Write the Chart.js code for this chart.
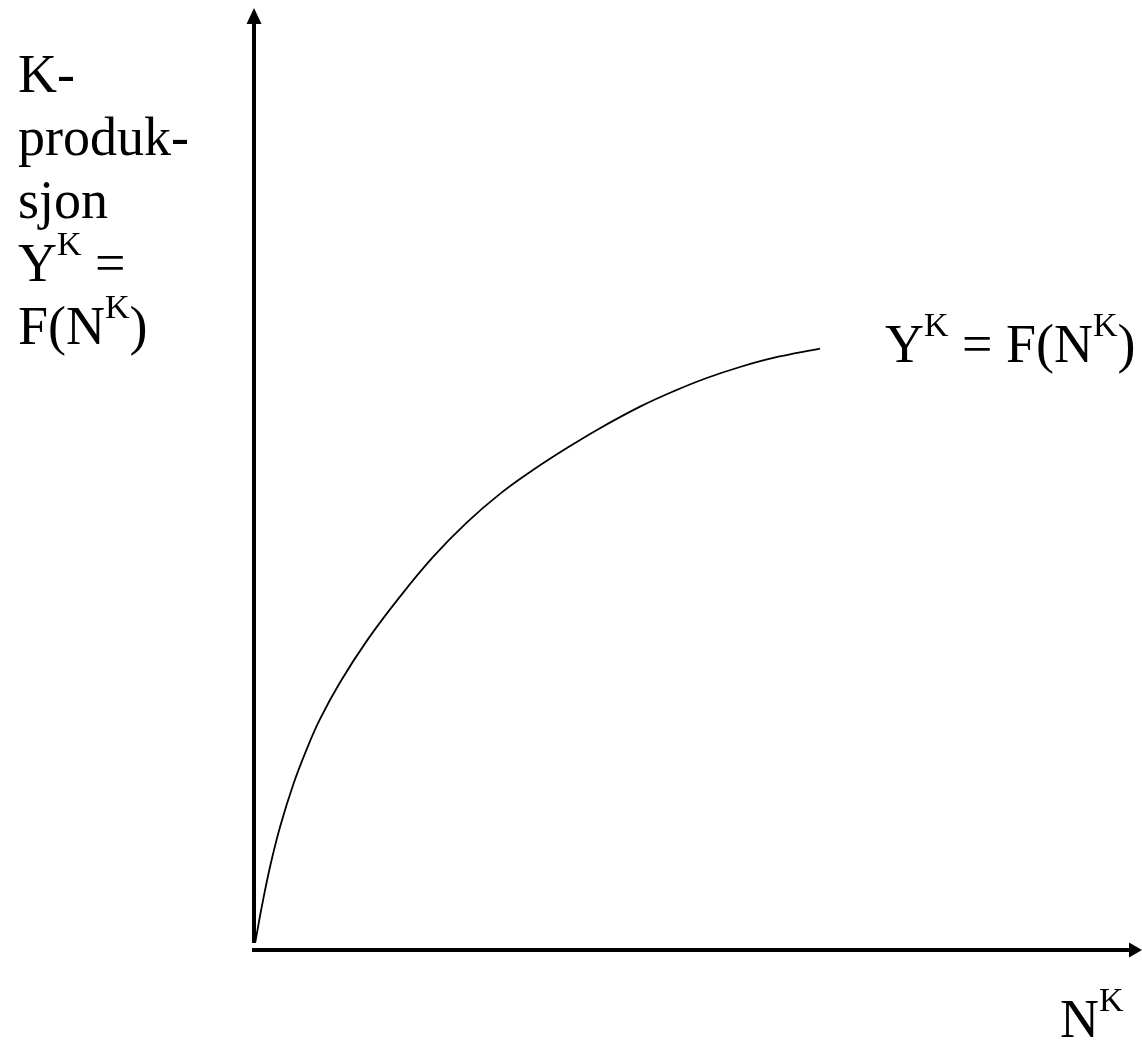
<!DOCTYPE html>
<html>
<head>
<meta charset="utf-8">
<title>Produksjonsfunksjon</title>
<script src="https://cdn.jsdelivr.net/npm/chart.js@4"></script>
<style>
  html, body { margin: 0; padding: 0; background: #fff; }
  canvas { display: block; }
</style>
</head>
<body>
<canvas id="prodChart" width="1142" height="1041"></canvas>
<script>
// curve Y^K = F(N^K) (axis units 0..100)
const labourN = [0.15, 0.87, 1.80, 2.93, 4.43, 5.93, 7.43, 9.68, 12.80, 16.44, 20.19, 23.95, 27.70, 31.45, 35.21, 38.77, 43.47, 47.22, 50.98, 54.73, 58.48, 63.74];
const outputY = [0.85, 4.56, 8.81, 13.06, 17.60, 21.30, 24.50, 28.40, 32.95, 37.51, 41.75, 45.37, 48.42, 50.97, 53.27, 55.29, 57.68, 59.30, 60.72, 61.89, 62.85, 63.84];

const yAxisLines = ["K-", "produk-", "sjon", ["Y", "K", " ="], ["F(N", "K", ")"]];
const curveLabel = ["Y", "K", " = F(N", "K", ")"];
const xAxisLabel = ["N", "K"];

const FONT = "'Liberation Serif', 'Times New Roman', serif";
const BIG = 54, SMALL = 34, RAISE = 26;

// draw text with alternating normal / superscript parts
function drawParts(ctx, parts, x, y) {
  if (typeof parts === "string") parts = [parts];
  parts.forEach((p, i) => {
    const sup = i % 2 === 1;
    ctx.font = (sup ? SMALL : BIG) + "px " + FONT;
    ctx.fillText(p, x, sup ? y - RAISE : y);
    x += ctx.measureText(p).width;
  });
}

const axesPlugin = {
  id: "axesAndLabels",
  afterDraw(chart) {
    const ctx = chart.ctx;
    const xs = chart.scales.x, ys = chart.scales.y;
    const x0 = xs.getPixelForValue(0);
    const y0 = ys.getPixelForValue(0);
    const top = chart.chartArea.top;
    const right = chart.chartArea.right;

    ctx.save();
    ctx.fillStyle = "#000";
    ctx.strokeStyle = "#000";
    ctx.lineWidth = 4;

    // vertical axis
    ctx.beginPath();
    ctx.moveTo(x0, y0 - 7);
    ctx.lineTo(x0, top + 14);
    ctx.stroke();
    ctx.beginPath();
    ctx.moveTo(x0, top);
    ctx.lineTo(x0 - 7.5, top + 16);
    ctx.lineTo(x0 + 7.5, top + 16);
    ctx.closePath();
    ctx.fill();

    // horizontal axis
    ctx.beginPath();
    ctx.moveTo(x0 - 2, y0);
    ctx.lineTo(right - 10, y0);
    ctx.stroke();
    ctx.beginPath();
    ctx.moveTo(right, y0);
    ctx.lineTo(right - 13, y0 - 7.5);
    ctx.lineTo(right - 13, y0 + 7.5);
    ctx.closePath();
    ctx.fill();

    // texts
    ctx.textBaseline = "alphabetic";
    ctx.textAlign = "left";
    yAxisLines.forEach((line, i) => drawParts(ctx, line, 18, 92 + i * 63));
    drawParts(ctx, curveLabel, 885, 362);
    drawParts(ctx, xAxisLabel, 1060, 1037);
    ctx.restore();
  }
};

new Chart(document.getElementById("prodChart").getContext("2d"), {
  type: "line",
  data: {
    datasets: [{
      data: labourN.map((n, i) => ({ x: n, y: outputY[i] })),
      borderColor: "#000",
      borderWidth: 1.8,
      pointRadius: 0,
      fill: false,
      tension: 0.4
    }]
  },
  options: {
    responsive: false,
    animation: false,
    devicePixelRatio: 1,
    layout: { padding: { left: 254, right: 0, top: 8, bottom: 91 } },
    plugins: { legend: { display: false }, tooltip: { enabled: false } },
    scales: {
      x: { type: "linear", min: 0, max: 100, display: false },
      y: { type: "linear", min: 0, max: 100, display: false }
    }
  },
  plugins: [axesPlugin]
});
</script>
</body>
</html>
